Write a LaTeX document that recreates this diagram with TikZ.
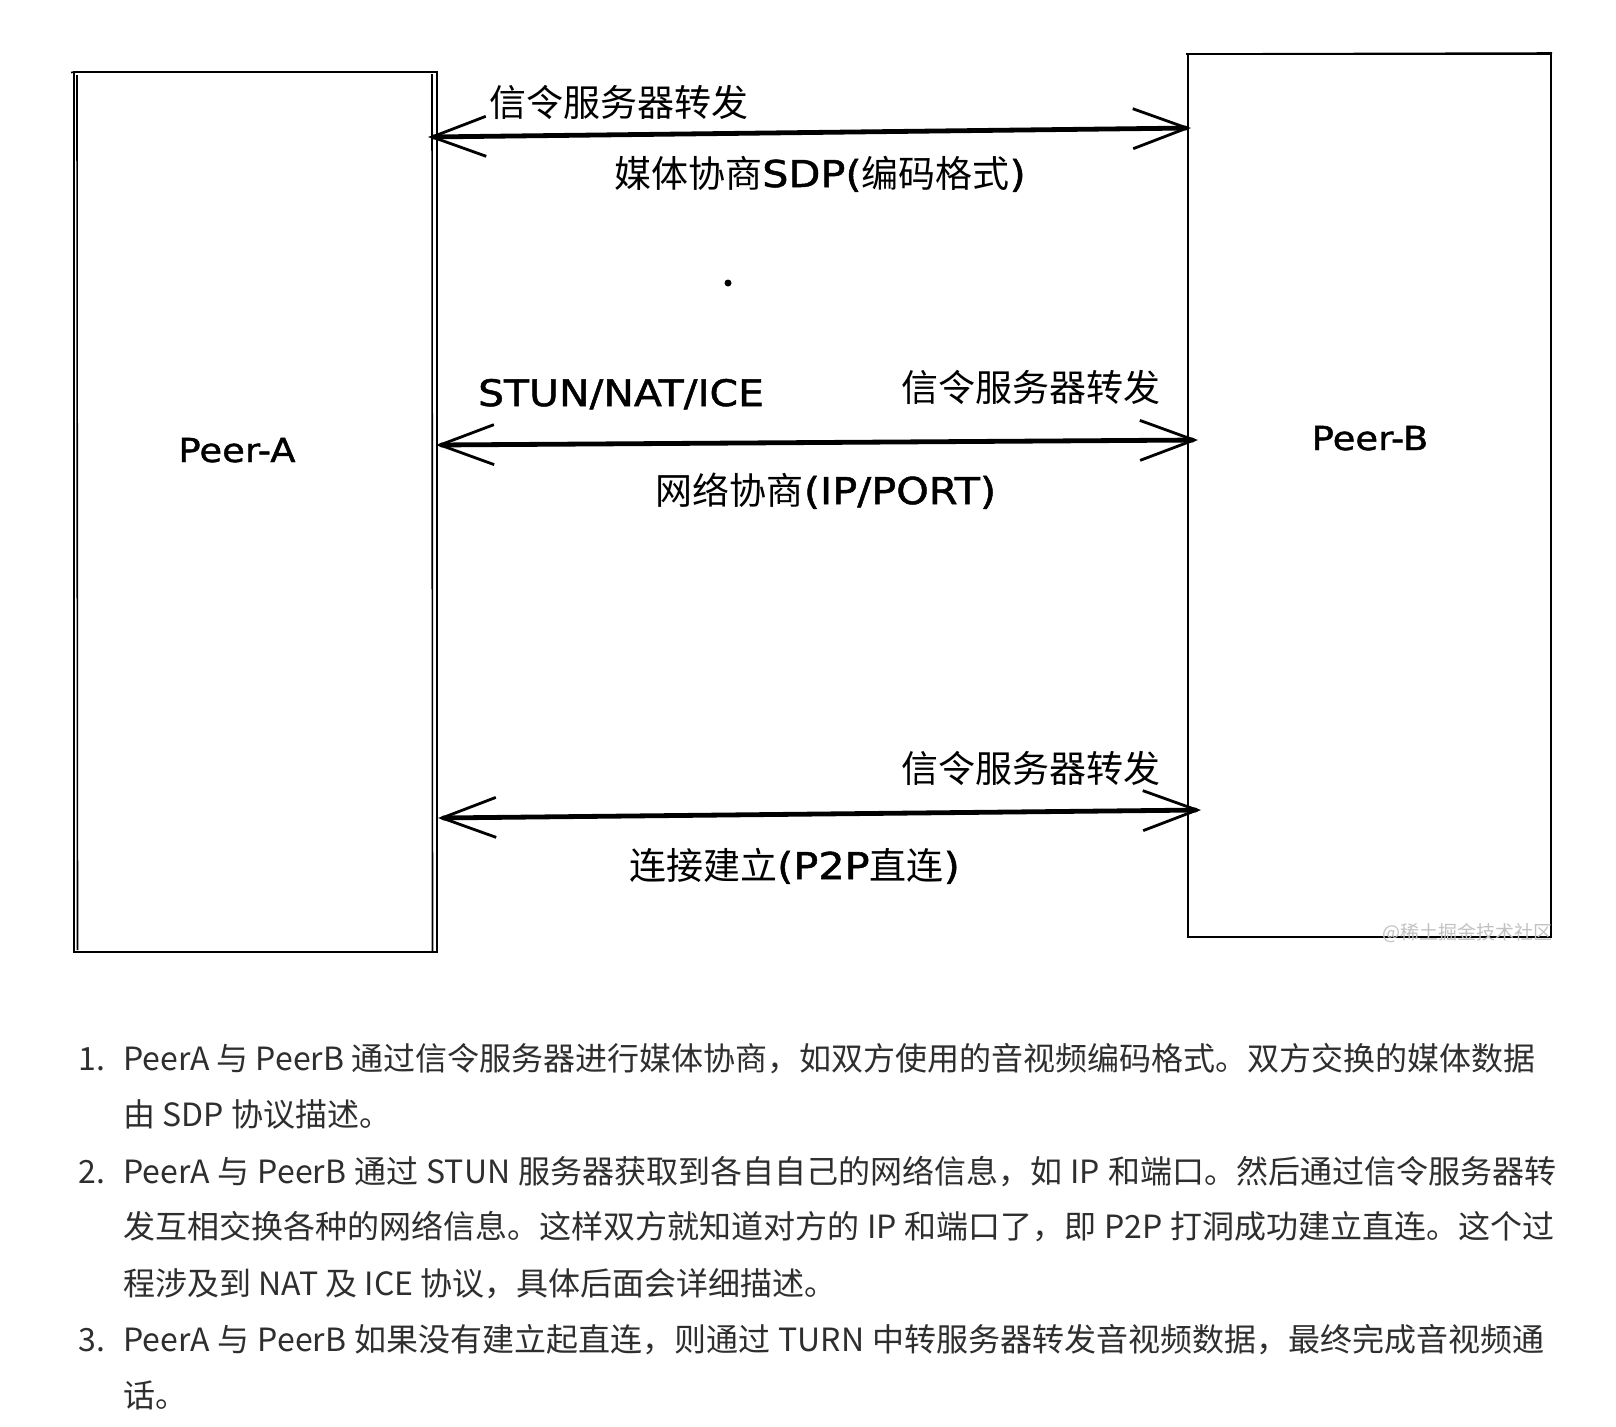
\documentclass[tikz,border=0pt]{standalone}
\usepackage{fontspec}
\setmainfont{Noto Sans CJK SC}
\newfontfamily\cjk{Noto Sans CJK SC}
\newfontfamily\hand[FakeStretch=1.12,FakeBold=1.3]{DejaVu Sans}
\usetikzlibrary{arrows.meta}
% allow stretchable glue between CJK characters so list lines can be justified
\XeTeXlinebreaklocale "zh"
\XeTeXlinebreakskip=0pt plus 1.5pt minus 0.5pt

\definecolor{listtext}{HTML}{2E2E2E}
\definecolor{markgray}{HTML}{C2C2C2}

\newcommand\hnd[1]{{\hand #1}}

\tikzset{
  peerbox/.style={draw, line width=1.4pt, inner sep=0pt, minimum width=181.5pt},
  sketch/.style={line width=0.8pt},
  link/.style={line width=2.4pt, line cap=round,
    {Straight Barb[length=27pt,width=20pt,line width=1.4pt]}-{Straight Barb[length=27pt,width=20pt,line width=1.4pt]}},
  cjklabel/.style={anchor=base, inner sep=0pt, font=\cjk\fontsize{18.5pt}{22pt}\selectfont},
  peerlabel/.style={anchor=base, inner sep=0pt, font=\hand\fontsize{16.5pt}{20pt}\selectfont},
  stunlabel/.style={anchor=base, inner sep=0pt, font=\hand\fontsize{18.25pt}{22pt}\selectfont},
  listnum/.style={anchor=base west, inner sep=0pt, text=listtext, font=\cjk\fontsize{16pt}{20pt}\selectfont},
  listline/.style={anchor=base west, inner sep=0pt, text=listtext, font=\cjk\fontsize{16pt}{20pt}\selectfont},
  watermark/.style={anchor=center, inner sep=0pt, text=markgray, font=\cjk\fontsize{9.5pt}{11pt}\selectfont}
}

\begin{document}
\begin{tikzpicture}[x=0.5pt, y=-0.5pt]
  \fill[white] (0,0) rectangle (1616,1426);
  \useasboundingbox (0,0) rectangle (1616,1426);

  % the two peers
  \node[peerbox, minimum height=440pt] (A) at (255.5,512) {};
  \node[peerbox, minimum height=441.5pt] (B) at (1369.5,495.5) {};
  % second pencil strokes of the left box
  \draw[sketch] (77,75) -- (77.5,950);
  \draw[sketch] (432,74) -- (432.5,951);
  \draw[sketch] (71,72.5) -- (75,72);
  \draw[sketch] (1186,54) -- (1552,53);

  \node[peerlabel] (la) at (237,462) {Peer-A};
  \node[peerlabel] (lb) at (1370,450) {Peer-B};

  % connector end points on the box edges
  \coordinate (a1) at (428,137);  \coordinate (b1) at (1191,128);
  \coordinate (a2) at (436,445);  \coordinate (b2) at (1198,440);
  \coordinate (a3) at (438,818);  \coordinate (b3) at (1201,810);

  \draw[link] (a1) -- (b1);
  \draw[link] (a2) -- (b2);
  \draw[link] (a3) -- (b3);

  % labels of the first exchange
  \node[cjklabel] (s1) at (619,116) {信令服务器转发};
  \node[cjklabel] (m1) at (820,187) {媒体协商\hnd{SDP(}编码格式\hnd{)}};

  \fill (728,283) circle (3.5);

  % labels of the second exchange
  \node[stunlabel] (st) at (621,406) {STUN/NAT/ICE};
  \node[cjklabel] (s2) at (1031,401) {信令服务器转发};
  \node[cjklabel] (m2) at (826,504) {网络协商\hnd{(IP/PORT)}};

  % labels of the third exchange
  \node[cjklabel] (s3) at (1031,782) {信令服务器转发};
  \node[cjklabel] (m3) at (794.5,879) {连接建立\hnd{(P2P}直连\hnd{)}};

  \node[watermark] (wm) at (1467,933) {@稀土掘金技术社区};

  % numbered notes
  \node[listnum] (n1) at (78,1070) {1.};
  \node[listline] (t1) at (123,1070) {\makebox[706pt][s]{PeerA 与 PeerB 通过信令服务器进行媒体协商，如双方使用的音视频编码格式。双方交换的媒体数据}};
  \node[listline] (t2) at (123,1126) {由 SDP 协议描述。};
  \node[listnum] (n2) at (78,1183) {2.};
  \node[listline] (t3) at (123,1183) {\makebox[716.5pt][s]{PeerA 与 PeerB 通过 STUN 服务器获取到各自自己的网络信息，如 IP 和端口。然后通过信令服务器转}};
  \node[listline] (t4) at (123,1238) {\makebox[715.5pt][s]{发互相交换各种的网络信息。这样双方就知道对方的 IP 和端口了，即 P2P 打洞成功建立直连。这个过}};
  \node[listline] (t5) at (123,1295) {程涉及到 NAT 及 ICE 协议，具体后面会详细描述。};
  \node[listnum] (n3) at (78,1351) {3.};
  \node[listline] (t6) at (123,1351) {\makebox[710.5pt][s]{PeerA 与 PeerB 如果没有建立起直连，则通过 TURN 中转服务器转发音视频数据，最终完成音视频通}};
  \node[listline] (t7) at (123,1407) {话。};
\end{tikzpicture}
\end{document}
